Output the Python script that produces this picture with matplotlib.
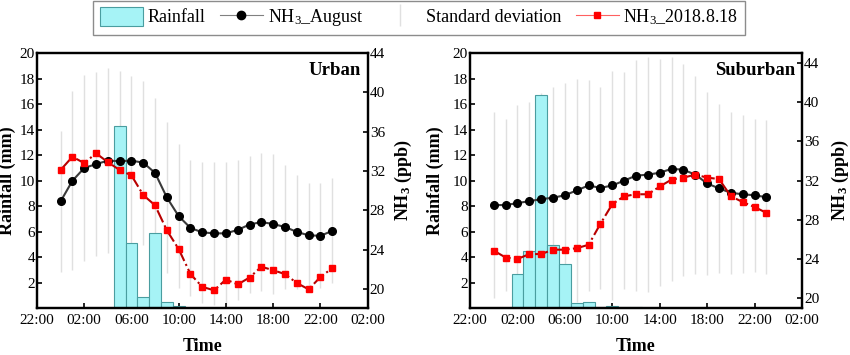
import numpy as np
import matplotlib
matplotlib.use('Agg')
import matplotlib.pyplot as plt
from matplotlib.patches import Patch
from matplotlib.lines import Line2D

plt.rcParams['font.family'] = ['Liberation Serif', 'DejaVu Serif']
plt.rcParams['mathtext.fontset'] = 'custom'
plt.rcParams['mathtext.rm'] = 'Liberation Serif'
plt.rcParams['mathtext.bf'] = 'Liberation Serif:bold'
plt.rcParams['mathtext.it'] = 'Liberation Serif:italic'

hours = np.arange(24)

# rainfall (mm) hourly
rain_urban = [0, 0, 0, 0, 0, 14.25, 5.1, 0.85, 5.9, 0.45, 0.15, 0,
              0, 0, 0, 0, 0, 0, 0, 0, 0, 0, 0, 0]
rain_suburban = [0, 0, 2.65, 4.5, 16.75, 4.95, 3.45, 0.4, 0.47, 0.05, 0.15, 0.05,
                 0.05, 0, 0, 0, 0, 0, 0, 0, 0, 0, 0, 0]

# NH3 August mean (ppb)
aug_urban = [28.9, 31.0, 32.3, 32.7, 33.05, 33.0, 33.05, 32.85, 31.8, 29.3, 27.4, 26.2,
             25.75, 25.65, 25.65, 26.0, 26.55, 26.8, 26.6, 26.3, 25.8, 25.45, 25.4, 25.9]
aug_suburban = [29.5, 29.5, 29.7, 29.9, 30.1, 30.25, 30.5, 31.0, 31.5, 31.25, 31.5, 32.0,
                32.5, 32.6, 32.8, 33.2, 33.1, 32.6, 31.7, 31.2, 30.75, 30.6, 30.5, 30.3]

# standard deviation (ppb)
sd_urban = [7.2, 9.1, 9.5, 9.4, 9.4, 9.2, 8.6, 8.35, 7.6, 7.7, 7.3, 6.9,
            7.2, 7.25, 7.25, 7.1, 7.0, 7.0, 7.1, 6.3, 5.8, 5.3, 5.35, 5.35]
sd_suburban = [9.5, 8.8, 10.0, 10.1, 10.8, 11.3, 11.4, 11.4, 10.8, 10.3, 11.7, 11.1,
               11.8, 12.0, 11.6, 11.4, 10.8, 10.1, 9.3, 8.65, 8.25, 8.05, 7.8, 7.85]

# NH3 on 2018.8.18 (ppb)
day_urban = [32.1, 33.45, 32.8, 33.8, 32.9, 32.1, 31.55, 29.55, 28.5, 25.95, 24.05, 21.5,
             20.2, 19.85, 20.95, 20.45, 21.15, 22.25, 21.9, 21.5, 20.6, 19.95, 21.2, 22.1]
day_suburban = [24.85, 24.15, 24.0, 24.5, 24.5, 24.95, 24.95, 25.1, 25.45, 27.6, 29.6, 30.4,
                30.6, 30.6, 31.4, 32.1, 32.3, 32.6, 32.3, 32.15, 30.4, 29.8, 29.3, 28.7]

xticks = [-2, 2, 6, 10, 14, 18, 22, 26]
xticklabels = ['22:00', '02:00', '06:00', '10:00', '14:00', '18:00', '22:00', '02:00']

# name, rain, mean, sd, day, NH3 limits, axes rect, left/right ylabel x (axes coords)
panels = [
    ('Urban', rain_urban, aug_urban, sd_urban, day_urban, (18.05, 44.0),
     [0.0435, 0.1324, 0.389, 0.718], -0.063, 1.075),
    ('Suburban', rain_suburban, aug_suburban, sd_suburban, day_suburban, (19.0, 45.0),
     [0.553, 0.1324, 0.3906, 0.718], -0.078, 1.084),
]

bar_face = '#a6f3f6'
bar_edge = '#4a9da0'
sd_color = '#e0e0e0'

fig = plt.figure(figsize=(8.5, 3.55), dpi=100)

for name, rain, aug, sd, day, nh3_lim, pos, lx, rx in panels:
    ax = fig.add_axes(pos)
    ax2 = ax.twinx()
    ax2.set_ylim(*nh3_lim)
    ax.set_ylim(0, 20)
    ax.set_xlim(-2, 26)

    aug = np.array(aug)
    sd = np.array(sd)
    # standard deviation drawn behind the bars, in NH3 units
    ax.vlines(hours, aug - sd, aug + sd, colors=sd_color, lw=1.0,
              transform=ax2.transData, zorder=1)

    rain = np.array(rain)
    m = rain > 0
    ax.bar(hours[m], rain[m], width=1.0, color=bar_face, edgecolor=bar_edge,
           lw=0.8, zorder=2)

    ax2.plot(hours, aug, color='#3a3a3a', lw=1.5, marker='o', ms=5.5,
             mfc='black', mec='black', zorder=3)
    ax2.plot(hours, day, color='#b80000', lw=1.5, ls='-.', marker='s', ms=5,
             mfc='#ff0000', mec='#ff0000', zorder=4)

    ax.set_xticks(xticks)
    ax.set_xticklabels(xticklabels)
    ax.set_yticks(np.arange(2, 21, 2))
    ax2.set_yticks(np.arange(20, 45, 4))

    for a in (ax, ax2):
        a.tick_params(direction='in', labelsize=11, width=1.2, length=3.5)
        for s in a.spines.values():
            s.set_linewidth(1.6)
    ax.tick_params(axis='y', pad=1.5)
    ax2.tick_params(axis='y', pad=1.5)
    ax.tick_params(axis='x', pad=4)

    ax.set_xlabel('Time', fontsize=13, fontweight='bold')
    ax.xaxis.set_label_coords(0.5, -0.118)
    ax.set_ylabel('Rainfall (mm)', fontsize=13, fontweight='bold')
    ax.yaxis.set_label_coords(lx, 0.5)
    ax2.set_ylabel(r'NH$_\mathbf{3}$ (ppb)', fontsize=13, fontweight='bold')
    ax2.yaxis.set_label_coords(rx, 0.5)

    ax.text(0.98, 0.93, name, transform=ax.transAxes, ha='right', va='center',
            fontsize=13.5, fontweight='bold')

handles = [
    Patch(facecolor=bar_face, edgecolor=bar_edge, lw=0.8),
    Line2D([], [], color='#808080', lw=0.8, marker='o', ms=6, mfc='black', mec='black'),
    Line2D([], [], color=sd_color, ls='none', marker='|', ms=16, mew=1.0),
    Line2D([], [], color='#ff6060', lw=0.8, marker='s', ms=5, mfc='#ff0000', mec='#ff0000'),
]
labels = ['Rainfall', r'NH$_3$_August', 'Standard deviation', r'NH$_3$_2018.8.18']
leg = fig.legend(handles, labels, loc='upper center', bbox_to_anchor=(0.493, 1.003),
                 ncol=4, fontsize=13, frameon=True, fancybox=False,
                 edgecolor='#707070', handlelength=2.4, handleheight=1.2,
                 columnspacing=0.8, handletextpad=0.25, borderpad=0.35,
                 borderaxespad=0.1)
leg.get_frame().set_linewidth(1.0)

fig.savefig('out.png', dpi=100)
